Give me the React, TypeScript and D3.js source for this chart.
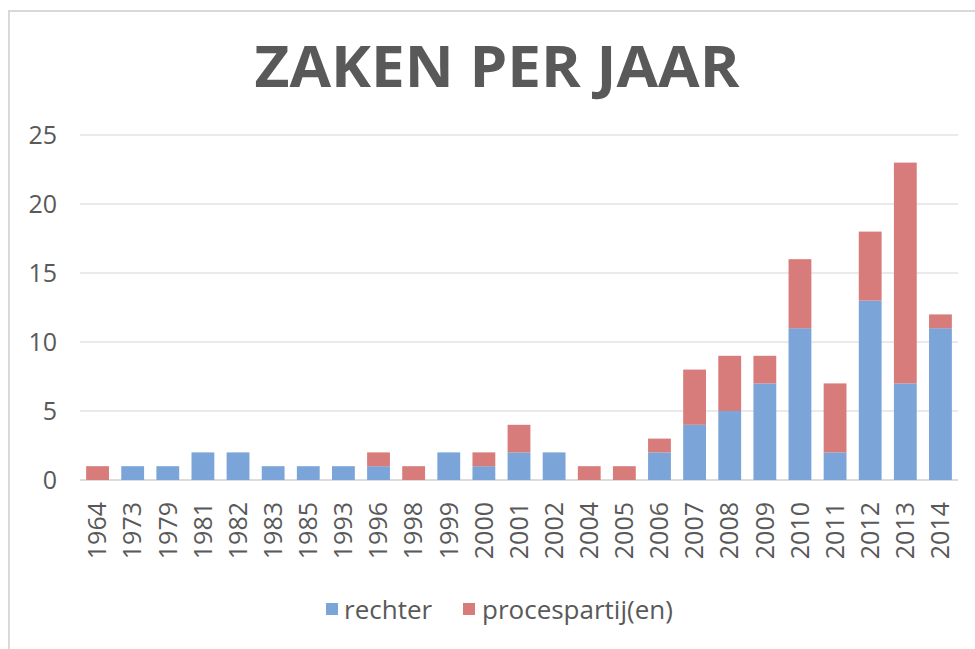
import * as d3 from 'd3'

const W = 975, H = 649
const M = { top: 135, right: 17, bottom: 169, left: 80 }

const years = ['1964', '1973', '1979', '1981', '1982', '1983', '1985', '1993', '1996', '1998', '1999', '2000', '2001', '2002', '2004', '2005', '2006', '2007', '2008', '2009', '2010', '2011', '2012', '2013', '2014']
const rechter = [0, 1, 1, 2, 2, 1, 1, 1, 1, 0, 2, 1, 2, 2, 0, 0, 2, 4, 5, 7, 11, 2, 13, 7, 11]
const procespartijen = [1, 0, 0, 0, 0, 0, 0, 0, 1, 1, 0, 1, 2, 0, 1, 1, 1, 4, 4, 2, 5, 5, 5, 16, 1]
const yTicks = [0, 5, 10, 15, 20, 25]

const seriesNames = ['rechter', 'procespartij(en)']
const colors = ['#7ba4d8', '#d87b7b']
const textColor = '#595959'
const font = '"Open Sans", "Noto Sans", sans-serif'

export default function App() {
  const x = d3.scaleBand().domain(years).range([M.left, W - M.right]).paddingInner(0.35).paddingOuter(0.175)
  const y = d3.scaleLinear().domain([0, 25]).range([H - M.bottom, M.top])

  const rows = years.map((yr, i) => ({ year: yr, rechter: rechter[i], proc: procespartijen[i] }))
  const stack = d3.stack<any>().keys(['rechter', 'proc'])(rows)

  return (
    <svg width={W} height={H} style={{ position: 'absolute', left: 0, top: 0, background: '#fff' }} fontFamily={font}>
      {/* frame */}
      <path d={`M9,${H} V11 H${W}`} fill="none" stroke="#d9d9d9" strokeWidth={2} />

      <text x={497} y={87} textAnchor="middle" fontSize={57} fontWeight="bold" fill={textColor} textLength={485} lengthAdjust="spacingAndGlyphs">
        ZAKEN PER JAAR
      </text>

      {/* grid */}
      {yTicks.map((t) => (
        <g key={t}>
          <line x1={M.left} x2={W - M.right} y1={y(t)} y2={y(t)} stroke={t === 0 ? '#d0d0d0' : '#e3e3e3'} strokeWidth={1.5} />
          <text x={57} y={y(t)} dy="0.35em" textAnchor="end" fontSize={25} fill={textColor}>{t}</text>
        </g>
      ))}

      {/* bars */}
      {stack.map((s, si) => (
        <g key={si} fill={colors[si]}>
          {s.map((d: any, i: number) => d[1] - d[0] > 0 && (
            <rect key={i} x={x(years[i])} width={x.bandwidth()} y={y(d[1])} height={y(d[0]) - y(d[1])} />
          ))}
        </g>
      ))}

      {/* x labels */}
      {years.map((yr) => (
        <text key={yr} transform={`translate(${(x(yr) as number) + x.bandwidth() / 2},502) rotate(-90)`} textAnchor="end" dy="0.35em" fontSize={25} fill={textColor}>
          {yr}
        </text>
      ))}

      {/* legend */}
      {[{ x: 326, tx: 344 }, { x: 463, tx: 482 }].map((l, i) => (
        <g key={i}>
          <rect x={l.x} y={603} width={12} height={12} fill={colors[i]} />
          <text x={l.tx} y={610} dy="0.35em" fontSize={26} fill={textColor}>{seriesNames[i]}</text>
        </g>
      ))}
    </svg>
  )
}
